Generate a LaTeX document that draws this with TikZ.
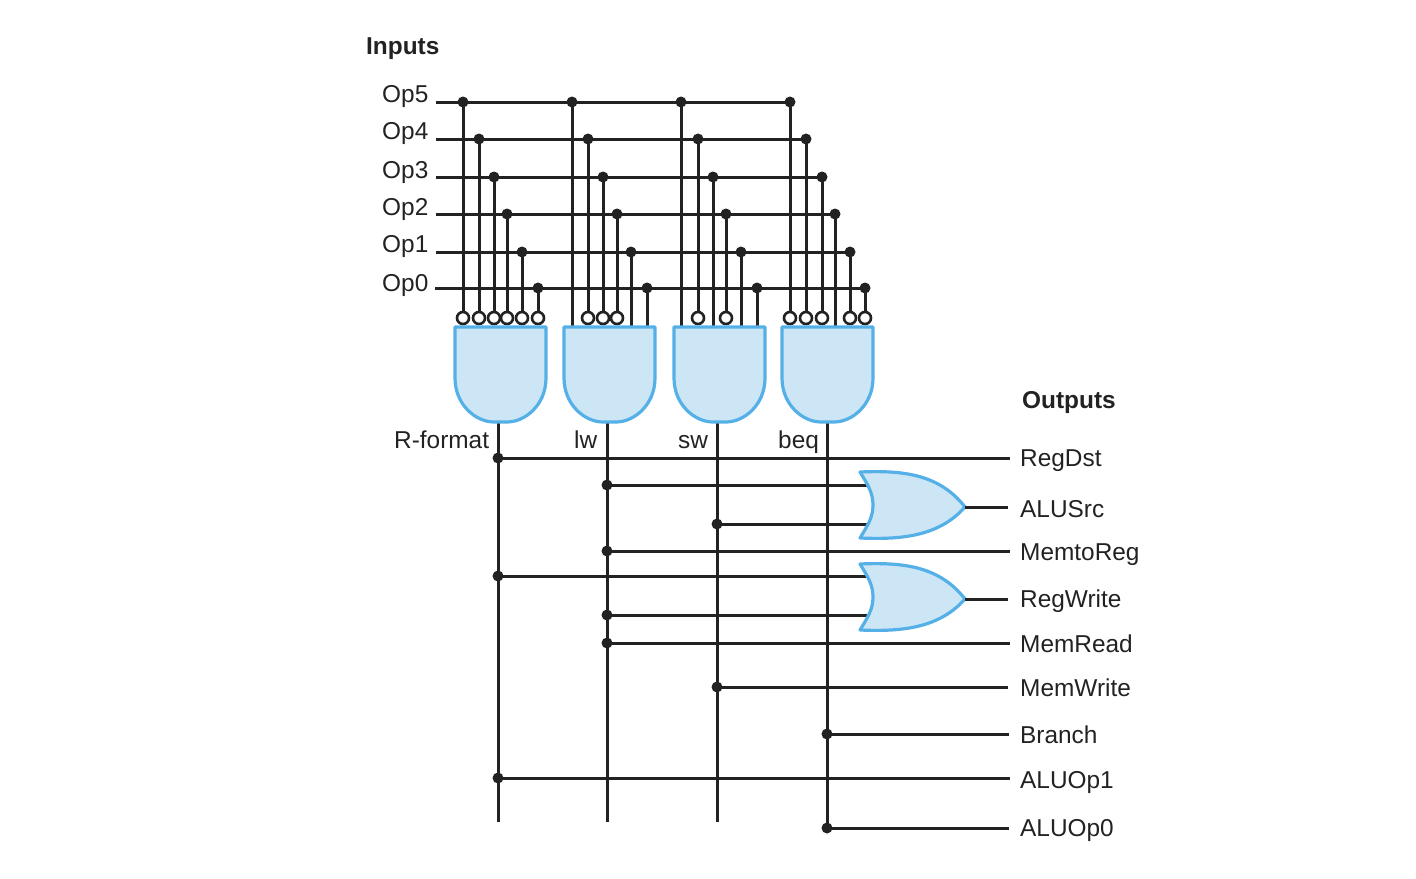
\documentclass[tikz,border=0pt]{standalone}
\usepackage{fontspec}
\setmainfont{Liberation Sans}
\definecolor{wirec}{HTML}{222222}
\definecolor{gatefill}{HTML}{CCE6F6}
\definecolor{gateline}{HTML}{56B0E8}
\tikzset{
  wire/.style={draw=wirec,line width=3pt},
  dotnode/.style={circle,fill=wirec,draw=none,minimum size=11pt,inner sep=0pt},
  bubble/.style={circle,draw=wirec,fill=white,line width=2.6pt,minimum size=12pt,inner sep=0pt},
  gate/.style={fill=gatefill,draw=gateline,line width=3.2pt,line join=round},
  lab/.style={anchor=base west,inner sep=0pt,text=wirec,font=\fontsize{24.4}{28}\selectfont},
  head/.style={lab,font=\fontsize{24.4}{28}\selectfont\bfseries},
}
\begin{document}
\begin{tikzpicture}[x=1pt,y=-1pt]
\useasboundingbox (0,0) rectangle (1416,878);
% input labels and rails
\node[head] (inputs) at (366,54) {Inputs};
\foreach \n/\ya/\yb/\xs in {5/102/102/436,4/139/139/436,3/178/177/436,2/215/214/436,1/252/252/436,0/291/288/435}{
  \node[lab] (lab\n) at (382,\ya) {Op\n};
  \coordinate (rail\n) at (\xs,\yb);
}
% input dots: name d<op><gate>, with x position; wires drop to bubbles or gates
\foreach \op/\y/\xa/\xb/\xc/\xd in {5/102/463/572/681/790,4/139/479/588/698/806,3/177/494/603/713/822,2/214/507/617/726/835,1/252/522/631/741/850,0/288/538/647/757/865}{
  \node[dotnode] (d\op a) at (\xa,\y) {};
  \node[dotnode] (d\op b) at (\xb,\y) {};
  \node[dotnode] (d\op c) at (\xc,\y) {};
  \node[dotnode] (d\op d) at (\xd,\y) {};
  \draw[wire] (rail\op) -- (d\op d.center);
}
% bubbled inputs
\foreach \op/\g in {5/a,4/a,3/a,2/a,1/a,0/a, 4/b,3/b,2/b, 4/c,2/c, 5/d,4/d,3/d,1/d,0/d}{
  \node[bubble] (b\op\g) at (d\op\g |- 0,318) {};
  \draw[wire] (d\op\g.center) -- (b\op\g.north);
}
% direct inputs
\foreach \op/\g in {5/b,1/b,0/b, 5/c,3/c,1/c,0/c, 2/d}{
  \coordinate (t\op\g) at (d\op\g |- 0,327);
  \draw[wire] (d\op\g.center) -- (t\op\g);
}
% output columns
\coordinate (ra) at (498,422); \coordinate (rb) at (498,822);
\coordinate (la) at (607,422); \coordinate (lb) at (607,822);
\coordinate (sa) at (717,422); \coordinate (sb) at (717,822);
\coordinate (qa) at (827,422); \coordinate (qb) at (827,828);
\draw[wire] (ra) -- (rb);
\draw[wire] (la) -- (lb);
\draw[wire] (sa) -- (sb);
\draw[wire] (qa) -- (qb);
% AND gates
\foreach \x in {455,564,674,782}{
  \path[gate] (\x,327) -- (\x+91,327) -- (\x+91,378)
     .. controls (\x+91,405) and (\x+70,422) .. (\x+52,422) -- (\x+39,422)
     .. controls (\x+21,422) and (\x,405) .. (\x,378) -- cycle;
}
\node[lab] (rf) at (394,448.5) {R-format};
\node[lab] (lw) at (574,448.5) {lw};
\node[lab] (sw) at (678,448.5) {sw};
\node[lab] (beq) at (778,448.5) {beq};
% output rows
\node[head] (outputs) at (1022,408) {Outputs};
\foreach \name/\cx/\y/\yb/\xe in {RegDst/498/458/466/1010,MemtoReg/607/551/560/1010,MemRead/607/643/652/1010,MemWrite/717/687/696/1008,Branch/827/734/743/1009,ALUOp1/498/778/788/1010,ALUOp0/827/828/836/1009}{
  \node[dotnode] (o\name) at (\cx,\y) {};
  \node[lab] (t\name) at (1020,\yb) {\name};
  \coordinate (e\name) at (\xe,\y);
  \draw[wire] (o\name.center) -- (e\name);
}
% OR gates inputs
\foreach \id/\cx/\y in {aa/607/485,ab/717/524,ba/498/576,bb/607/615}{
  \node[dotnode] (i\id) at (\cx,\y) {};
  \coordinate (g\id) at (868,\y);
  \draw[wire] (i\id.center) -- (g\id);
}
% OR gates
\foreach \nm/\lbl/\yc/\yb in {a/ALUSrc/505/517,b/RegWrite/597/607}{
  \path[gate] (860,\yc-33)
     .. controls (905,\yc-35) and (940,\yc-30) .. (965,\yc+2)
     .. controls (940,\yc+30) and (905,\yc+35) .. (860,\yc+33)
     .. controls (868,\yc+20) and (873,\yc+12) .. (873,\yc)
     .. controls (873,\yc-12) and (868,\yc-20) .. (860,\yc-33) -- cycle;
  \coordinate (or\nm) at (965,\yc+2);
  \coordinate (oe\nm) at (1008,\yc+2);
  \draw[wire] (or\nm) -- (oe\nm);
  \node[lab] (t\nm) at (1020,\yb) {\lbl};
}
\end{tikzpicture}
\end{document}
